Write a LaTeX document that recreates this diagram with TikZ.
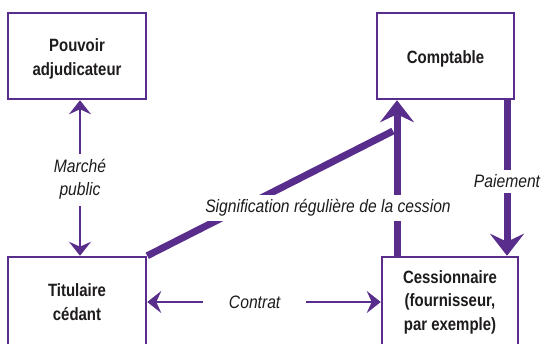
\documentclass[tikz,border=0pt]{standalone}
\usepackage{fontspec}
\setmainfont{Liberation Sans}[FakeStretch=0.87]
\newfontfamily\boxfont{Liberation Sans}[FakeStretch=0.84]
\usetikzlibrary{arrows.meta}
\definecolor{vio}{RGB}{88,45,140}
\definecolor{ink}{RGB}{30,27,28}
\tikzset{
  box/.style={draw=vio, line width=2.5pt, fill=white, align=center, text=ink,
    font=\boxfont\bfseries\fontsize{17.8}{23.5}\selectfont, inner sep=0pt},
  lbl/.style={fill=white, align=center, text=ink,
    font=\itshape\fontsize{18}{23}\selectfont, inner sep=4pt},
  thinarr/.style={draw=vio, line width=2.2pt,
    {Stealth[length=14pt, width=22pt, inset=5pt]}-{Stealth[length=14pt, width=22pt, inset=5pt]}},
  thickarr/.style={draw=vio, line width=7pt,
    -{Stealth[length=22pt, width=34pt, inset=8pt]}},
  thickline/.style={draw=vio, line width=7pt}
}
\begin{document}
\begin{tikzpicture}[x=1pt, y=-1pt]
\useasboundingbox (0,0) rectangle (543,343);
\node[box, minimum width=138pt, minimum height=86pt] (pa) at (77,56) {\rule{0pt}{19pt}Pouvoir\\adjudicateur};
\node[box, minimum width=137pt, minimum height=86pt] (co) at (445.5,56) {\rule{0pt}{19pt}Comptable};
\node[box, minimum width=138pt, minimum height=90pt] (tc) at (77,302) {Titulaire\\cédant};
\node[box, minimum width=136pt, minimum height=90pt] (ce) at (450,302) {Cessionnaire\\(fournisseur,\\par exemple)};
\coordinate (sigtop) at (393,131);
\draw[thinarr] ([xshift=3pt]pa.south) -- node[lbl, pos=0.51, inner ysep=6pt]{Marché\\public} ([xshift=3pt]tc.north);
\draw[thinarr] (tc.east) -- node[lbl, pos=0.46, inner xsep=26pt]{Contrat} (ce.east -| ce.west);
\draw[thickline] (tc.north east) -- (sigtop);
\draw[thickarr] ([xshift=-53pt]ce.north) -- ([xshift=-53pt]ce.north |- co.south);
\draw[thickarr] ([xshift=61.5pt]co.south) -- node[lbl, inner sep=5pt, pos=0.52]{Paiement} ([xshift=61.5pt]co.south |- ce.north);
\node[lbl, inner sep=5pt] (sig) at (328,208) {Signification régulière de la cession};
\end{tikzpicture}
\end{document}
